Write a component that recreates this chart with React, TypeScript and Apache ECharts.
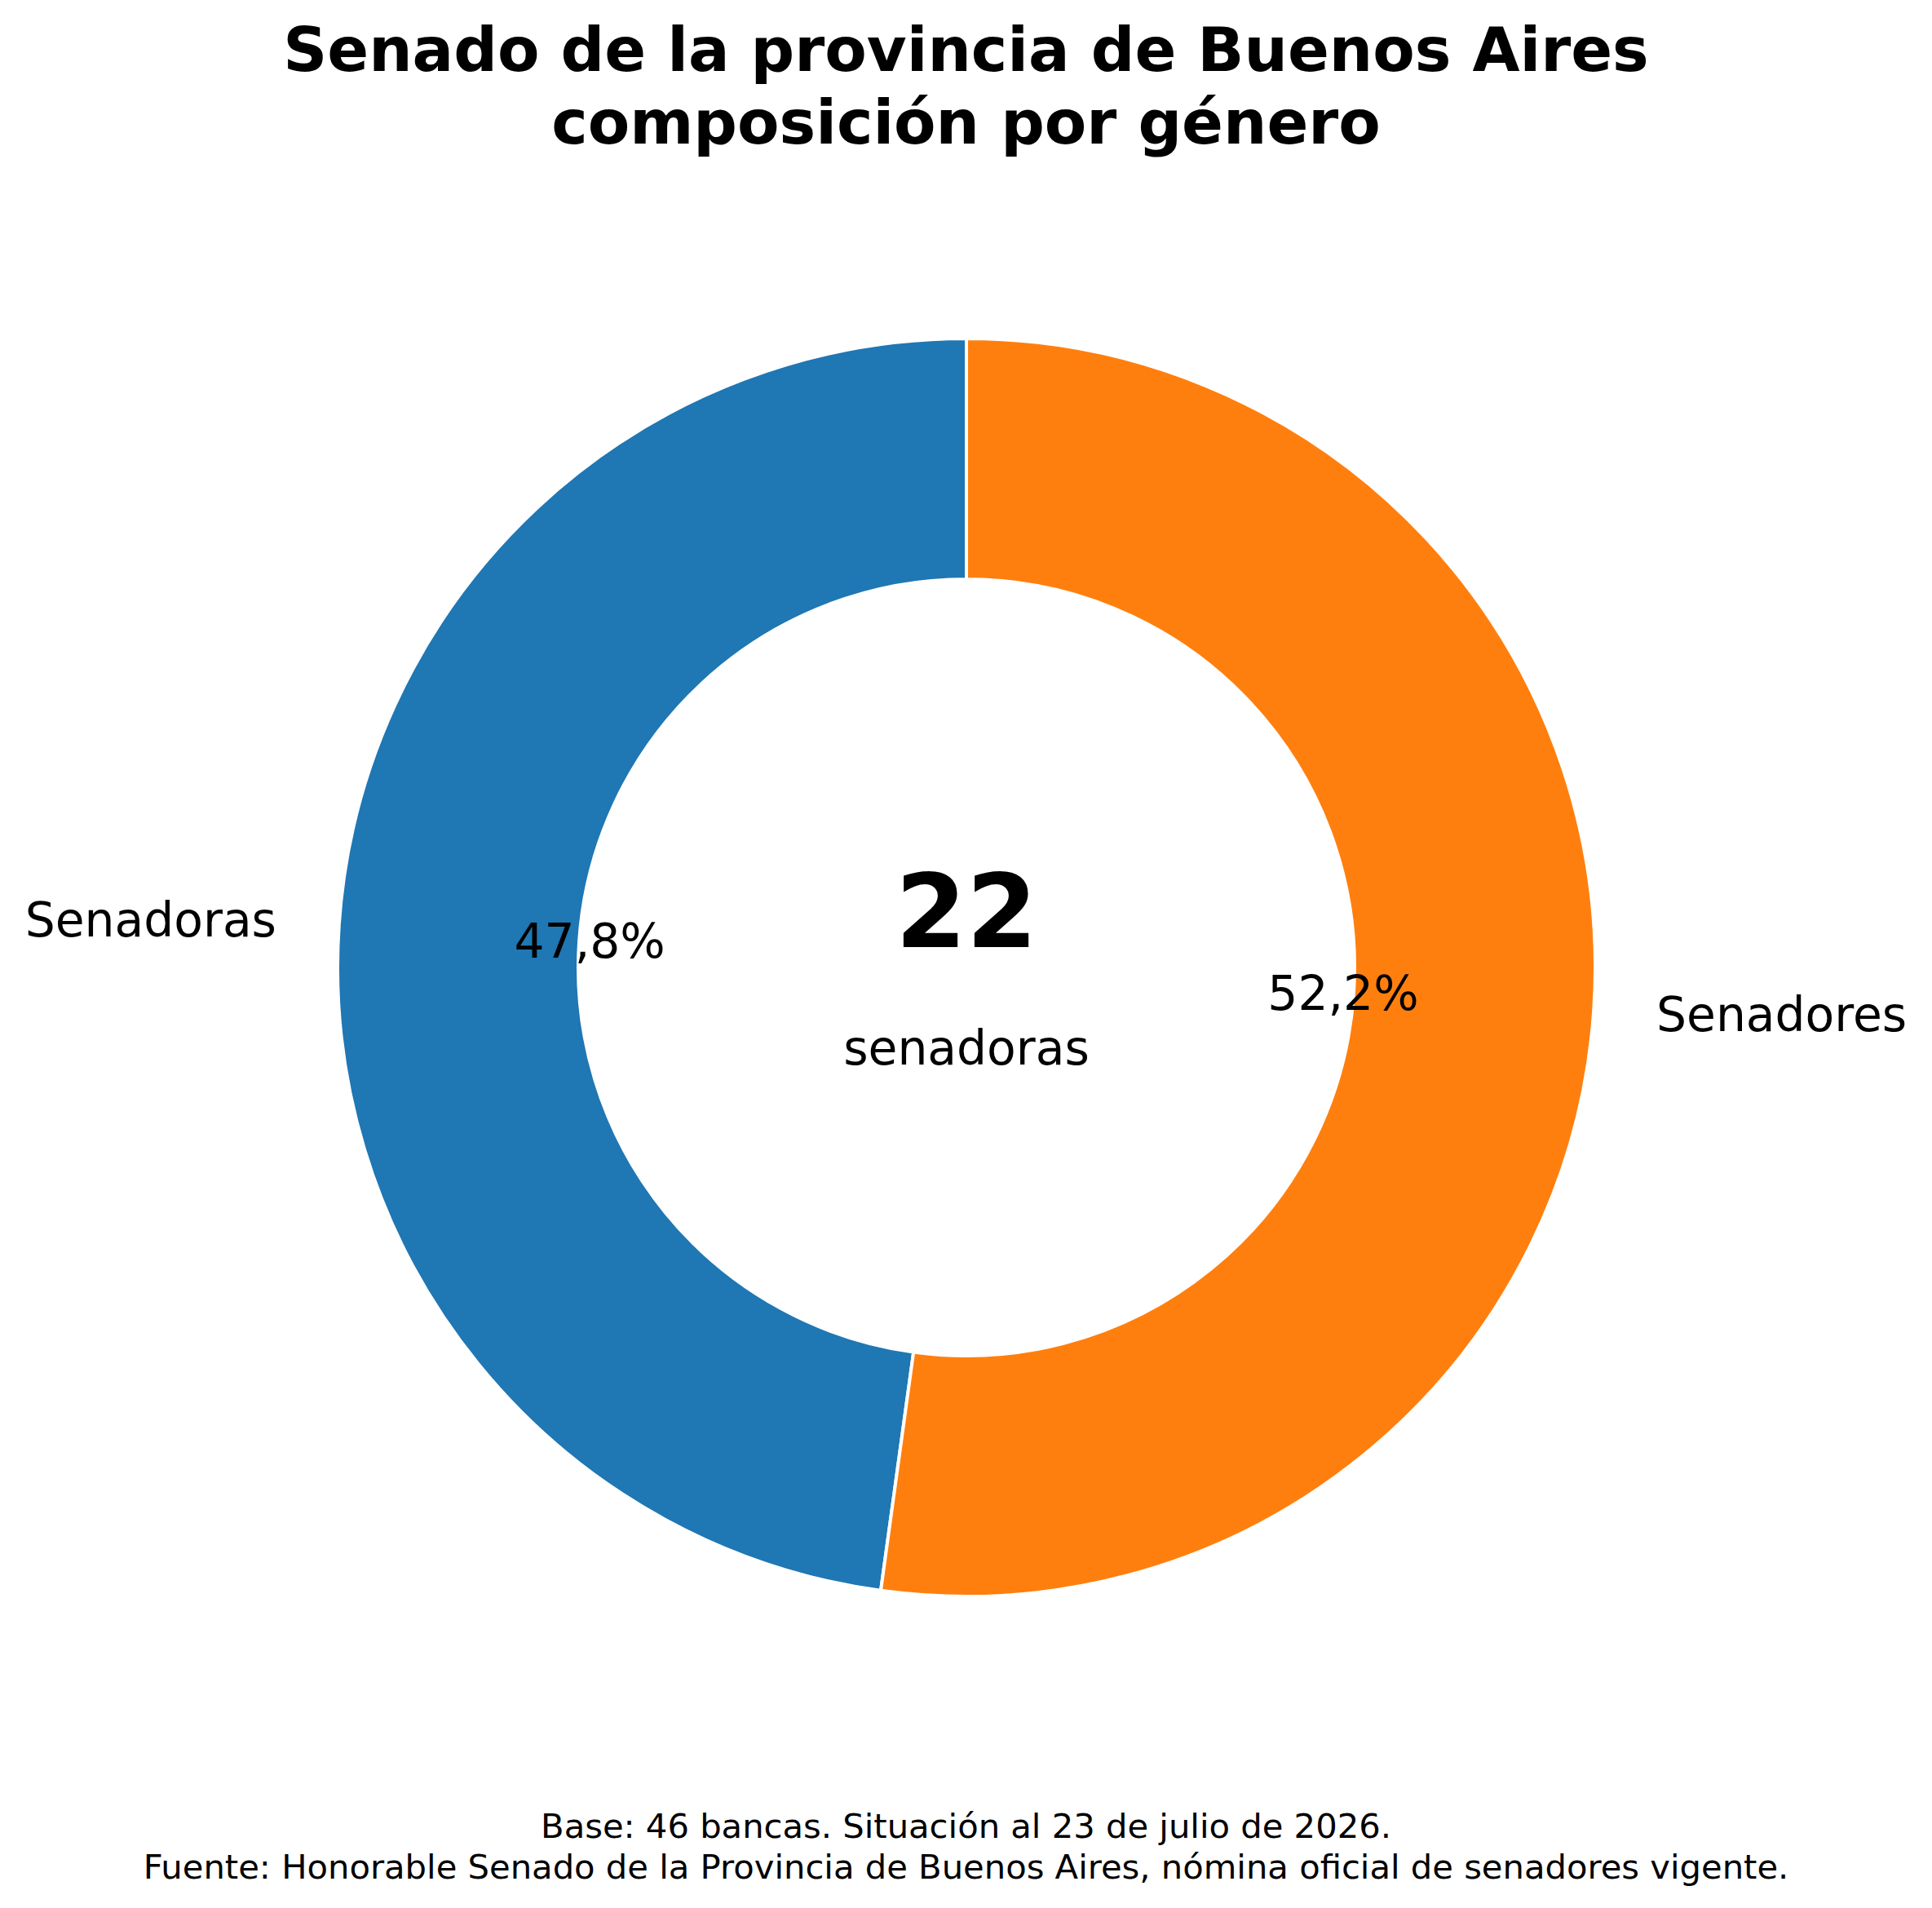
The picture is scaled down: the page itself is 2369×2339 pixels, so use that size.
import React, { useEffect, useRef } from "react";
import * as echarts from "echarts";

const categories = ["Senadoras", "Senadores"];
const seats = [22, 24];
const colors = ["#1f77b4", "#ff7f0e"];
const titleLines = ["Senado de la provincia de Buenos Aires", "composición por género"];
const centerCaption = "senadoras";
const footerLines = [
  "Base: 46 bancas. Situación al 23 de julio de 2026.",
  "Fuente: Honorable Senado de la Provincia de Buenos Aires, nómina oficial de senadores vigente.",
];

const FONT = "DejaVu Sans";

export default function App() {
  const ref = useRef<HTMLDivElement>(null);
  useEffect(() => {
    document.body.style.margin = "0";
    const chart = echarts.init(ref.current!, null, { renderer: "svg" });
    const total = seats.reduce((a, b) => a + b, 0);
    const pct = (v: number) => ((v / total) * 100).toFixed(1).replace(".", ",") + "%";
    const data = categories.map((name, i) => ({
      name,
      value: seats[i],
      itemStyle: { color: colors[i] },
    }));
    const ghost = categories.map((name, i) => ({
      name,
      value: seats[i],
      itemStyle: { color: "rgba(0,0,0,0)" },
    }));
    const center = [1185, 1186];
    chart.setOption({
      animation: false,
      backgroundColor: "#ffffff",
      title: [
        {
          text: titleLines.join("\n"),
          left: "center",
          top: 11,
          textStyle: {
            fontSize: 75,
            fontWeight: "bold",
            lineHeight: 89,
            fontFamily: FONT,
            color: "#000",
          },
        },
        {
          text: footerLines.join("\n"),
          left: "center",
          top: 2209,
          textStyle: {
            fontSize: 41.7,
            fontWeight: "normal",
            lineHeight: 49.5,
            fontFamily: FONT,
            color: "#000",
          },
        },
      ],
      series: [
        {
          type: "pie",
          radius: [476, 771],
          center,
          startAngle: 90,
          clockwise: false,
          avoidLabelOverlap: false,
          silent: true,
          emphasis: { disabled: true },
          itemStyle: { borderColor: "#ffffff", borderWidth: 4 },
          label: {
            show: true,
            position: "outside",
            formatter: "{b}",
            fontSize: 58.3,
            fontFamily: FONT,
            color: "#000",
            distanceToLabelLine: 0,
          },
          labelLine: { show: false, length: 77, length2: 0 },
          data,
        },
        {
          type: "pie",
          radius: [0, 920],
          center,
          startAngle: 90,
          clockwise: false,
          avoidLabelOverlap: false,
          silent: true,
          emphasis: { disabled: true },
          label: {
            show: true,
            position: "inside",
            formatter: (p: any) => pct(p.value),
            fontSize: 58.3,
            fontFamily: FONT,
            color: "#000",
            textBorderWidth: 0,
          },
          labelLine: { show: false },
          data: ghost,
        },
      ],
      graphic: [
        {
          type: "text",
          x: 1185,
          y: 1117,
          style: {
            text: String(seats[0]),
            fontSize: 125,
            fontWeight: "bold",
            fontFamily: FONT,
            fill: "#000",
            align: "center",
            verticalAlign: "middle",
            textAlign: "center",
            textVerticalAlign: "middle",
          },
        },
        {
          type: "text",
          x: 1185,
          y: 1285,
          style: {
            text: centerCaption,
            fontSize: 58.3,
            fontFamily: FONT,
            fill: "#000",
            align: "center",
            verticalAlign: "middle",
            textAlign: "center",
            textVerticalAlign: "middle",
          },
        },
      ],
    });
    return () => chart.dispose();
  }, []);
  return <div ref={ref} style={{ width: 2369, height: 2339 }} />;
}
